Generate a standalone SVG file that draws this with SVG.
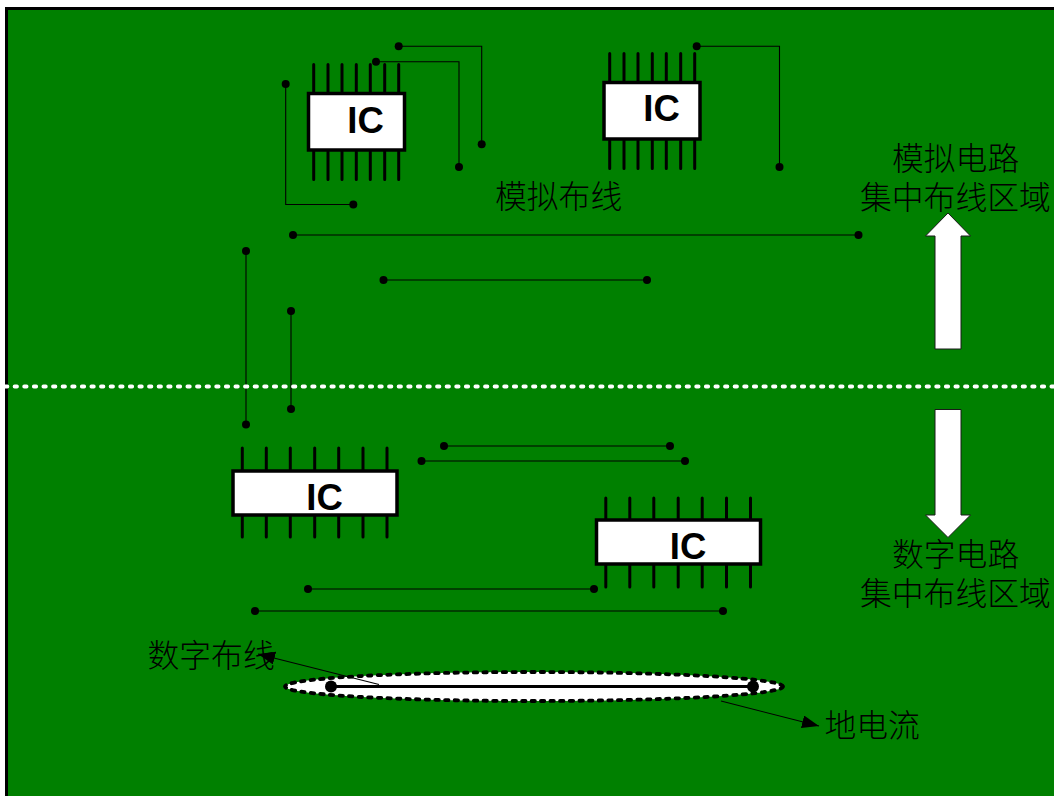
<svg xmlns="http://www.w3.org/2000/svg" width="1054" height="796" viewBox="0 0 1054 796">
<style>
.body{fill:#fff;stroke:#000;stroke-width:3.5}
.pin{stroke:#000;stroke-width:3;stroke-linecap:round;fill:none}
.wire{stroke:#000;stroke-width:1.1;fill:none}
.ic{font-family:"Liberation Sans",Arial,sans-serif;font-weight:700;font-size:36.5px;fill:#000;text-anchor:middle}
.zh{font-family:"Noto Sans CJK SC",sans-serif;font-weight:300;font-size:31.8px;fill:#000}
.arrow{fill:#fff;stroke:#1a1a1a;stroke-width:1}
</style>
<defs>
<marker id="head" markerUnits="userSpaceOnUse" markerWidth="18" markerHeight="14" refX="17" refY="6.5" orient="auto"><path d="M0 0L17 6.5L0 13Z" fill="#000"/></marker>
<circle id="dot" r="4" fill="#000"/>
<path id="pins7wide" class="pin" d="M10.3 0V22M34.3 0V22M58.3 0V22M82.7 0V22M106.7 0V22M131 0V22M155 0V22M10.3 67V89M34.3 67V89M58.3 67V89M82.7 67V89M106.7 67V89M131 67V89M155 67V89"/>
<path id="pins7" class="pin" d="M5.7 0V28M20 0V28M34 0V28M48.3 0V28M62.3 0V28M76.7 0V28M90.7 0V28M5.7 87V115M20 87V115M34 87V115M48.3 87V115M62.3 87V115M76.7 87V115M90.7 87V115"/>
</defs>
<g id="board"><rect x="6.5" y="8.5" width="1060" height="800" fill="#008000" stroke="#000" stroke-width="3"/></g>
<g id="connectors">
<path class="wire" d="M398.7 46.3H481.7V144.3"/>
<path class="wire" d="M376 61.7H459V167"/>
<path class="wire" d="M285.7 84V204.5H353.3"/>
<path class="wire" d="M696.7 46.3H779.5V167"/>
<path class="wire" d="M293 235H858.5"/>
<path class="wire" d="M383.5 280H647"/>
<path class="wire" d="M246 251V424.5"/>
<path class="wire" d="M291 311V409"/>
<path class="wire" d="M444 446H670"/>
<path class="wire" d="M421.5 461H685"/>
<path class="wire" d="M308 589H594"/>
<path class="wire" d="M255 611H723"/>
<use href="#dot" x="398.7" y="46.3"/><use href="#dot" x="481.7" y="144.3"/>
<use href="#dot" x="376" y="61.7"/><use href="#dot" x="459" y="167"/>
<use href="#dot" x="285.7" y="84"/><use href="#dot" x="353.3" y="204.5"/>
<use href="#dot" x="696.7" y="46.3"/><use href="#dot" x="779.5" y="167"/>
<use href="#dot" x="293" y="235"/><use href="#dot" x="858.5" y="235"/>
<use href="#dot" x="383.5" y="280"/><use href="#dot" x="647" y="280"/>
<use href="#dot" x="246" y="251"/><use href="#dot" x="246" y="424.5"/>
<use href="#dot" x="291" y="311"/><use href="#dot" x="291" y="409"/>
<use href="#dot" x="444" y="446"/><use href="#dot" x="670" y="446"/>
<use href="#dot" x="421.5" y="461"/><use href="#dot" x="685" y="461"/>
<use href="#dot" x="308" y="589"/><use href="#dot" x="594" y="589"/>
<use href="#dot" x="255" y="611"/><use href="#dot" x="723" y="611"/>
</g>
<g id="divider"><path d="M5 386.5H1054" stroke="#fff" stroke-width="3.8" stroke-dasharray="2.4 7.2" stroke-linecap="round" fill="none"/></g>
<g id="ic1"><use href="#pins7" x="308" y="64.5"/><rect class="body" x="308.5" y="93.5" width="96" height="56.5"/><text class="ic" x="365.5" y="133">IC</text></g>
<g id="ic2"><use href="#pins7" x="604" y="53.5"/><rect class="body" x="604" y="82.5" width="96" height="56.5"/><text class="ic" x="661.5" y="121">IC</text></g>
<g id="ic3"><use href="#pins7wide" x="232" y="448"/><rect class="body" x="233" y="471" width="164" height="44"/><text class="ic" x="324.5" y="510">IC</text></g>
<g id="ic4"><use href="#pins7wide" x="595.5" y="498"/><rect class="body" x="596.5" y="520" width="164" height="44"/><text class="ic" x="688" y="559">IC</text></g>
<g id="ground-current">
<ellipse cx="534" cy="686.5" rx="249" ry="14.5" fill="#fff" stroke="#000" stroke-width="3.8" stroke-dasharray="3.4 6.2" stroke-linecap="round"/>
<path d="M331 686.5H753" stroke="#000" stroke-width="3"/>
<circle cx="331" cy="686.5" r="6"/><circle cx="753" cy="686.5" r="6"/>
</g>
<g id="callouts">
<path class="wire" d="M379 684.5L258 654" marker-end="url(#head)"/>
<path class="wire" d="M721 701L819 726" marker-end="url(#head)"/>
</g>
<g id="arrow-up"><path class="arrow" d="M948 213L970.5 236H961V349H935V236H925.5Z"/></g>
<g id="arrow-down"><path class="arrow" d="M935 409.5H961V515H970.5L948 537.5L925.5 515H935Z"/></g>
<g id="labels">
<text class="zh" x="892" y="170">模拟电路</text>
<text class="zh" x="860" y="209">集中布线区域</text>
<text class="zh" x="495" y="208">模拟布线</text>
<text class="zh" x="892" y="566">数字电路</text>
<text class="zh" x="860" y="605">集中布线区域</text>
<text class="zh" x="147.5" y="667">数字布线</text>
<text class="zh" x="824.5" y="737">地电流</text>
</g>
</svg>
